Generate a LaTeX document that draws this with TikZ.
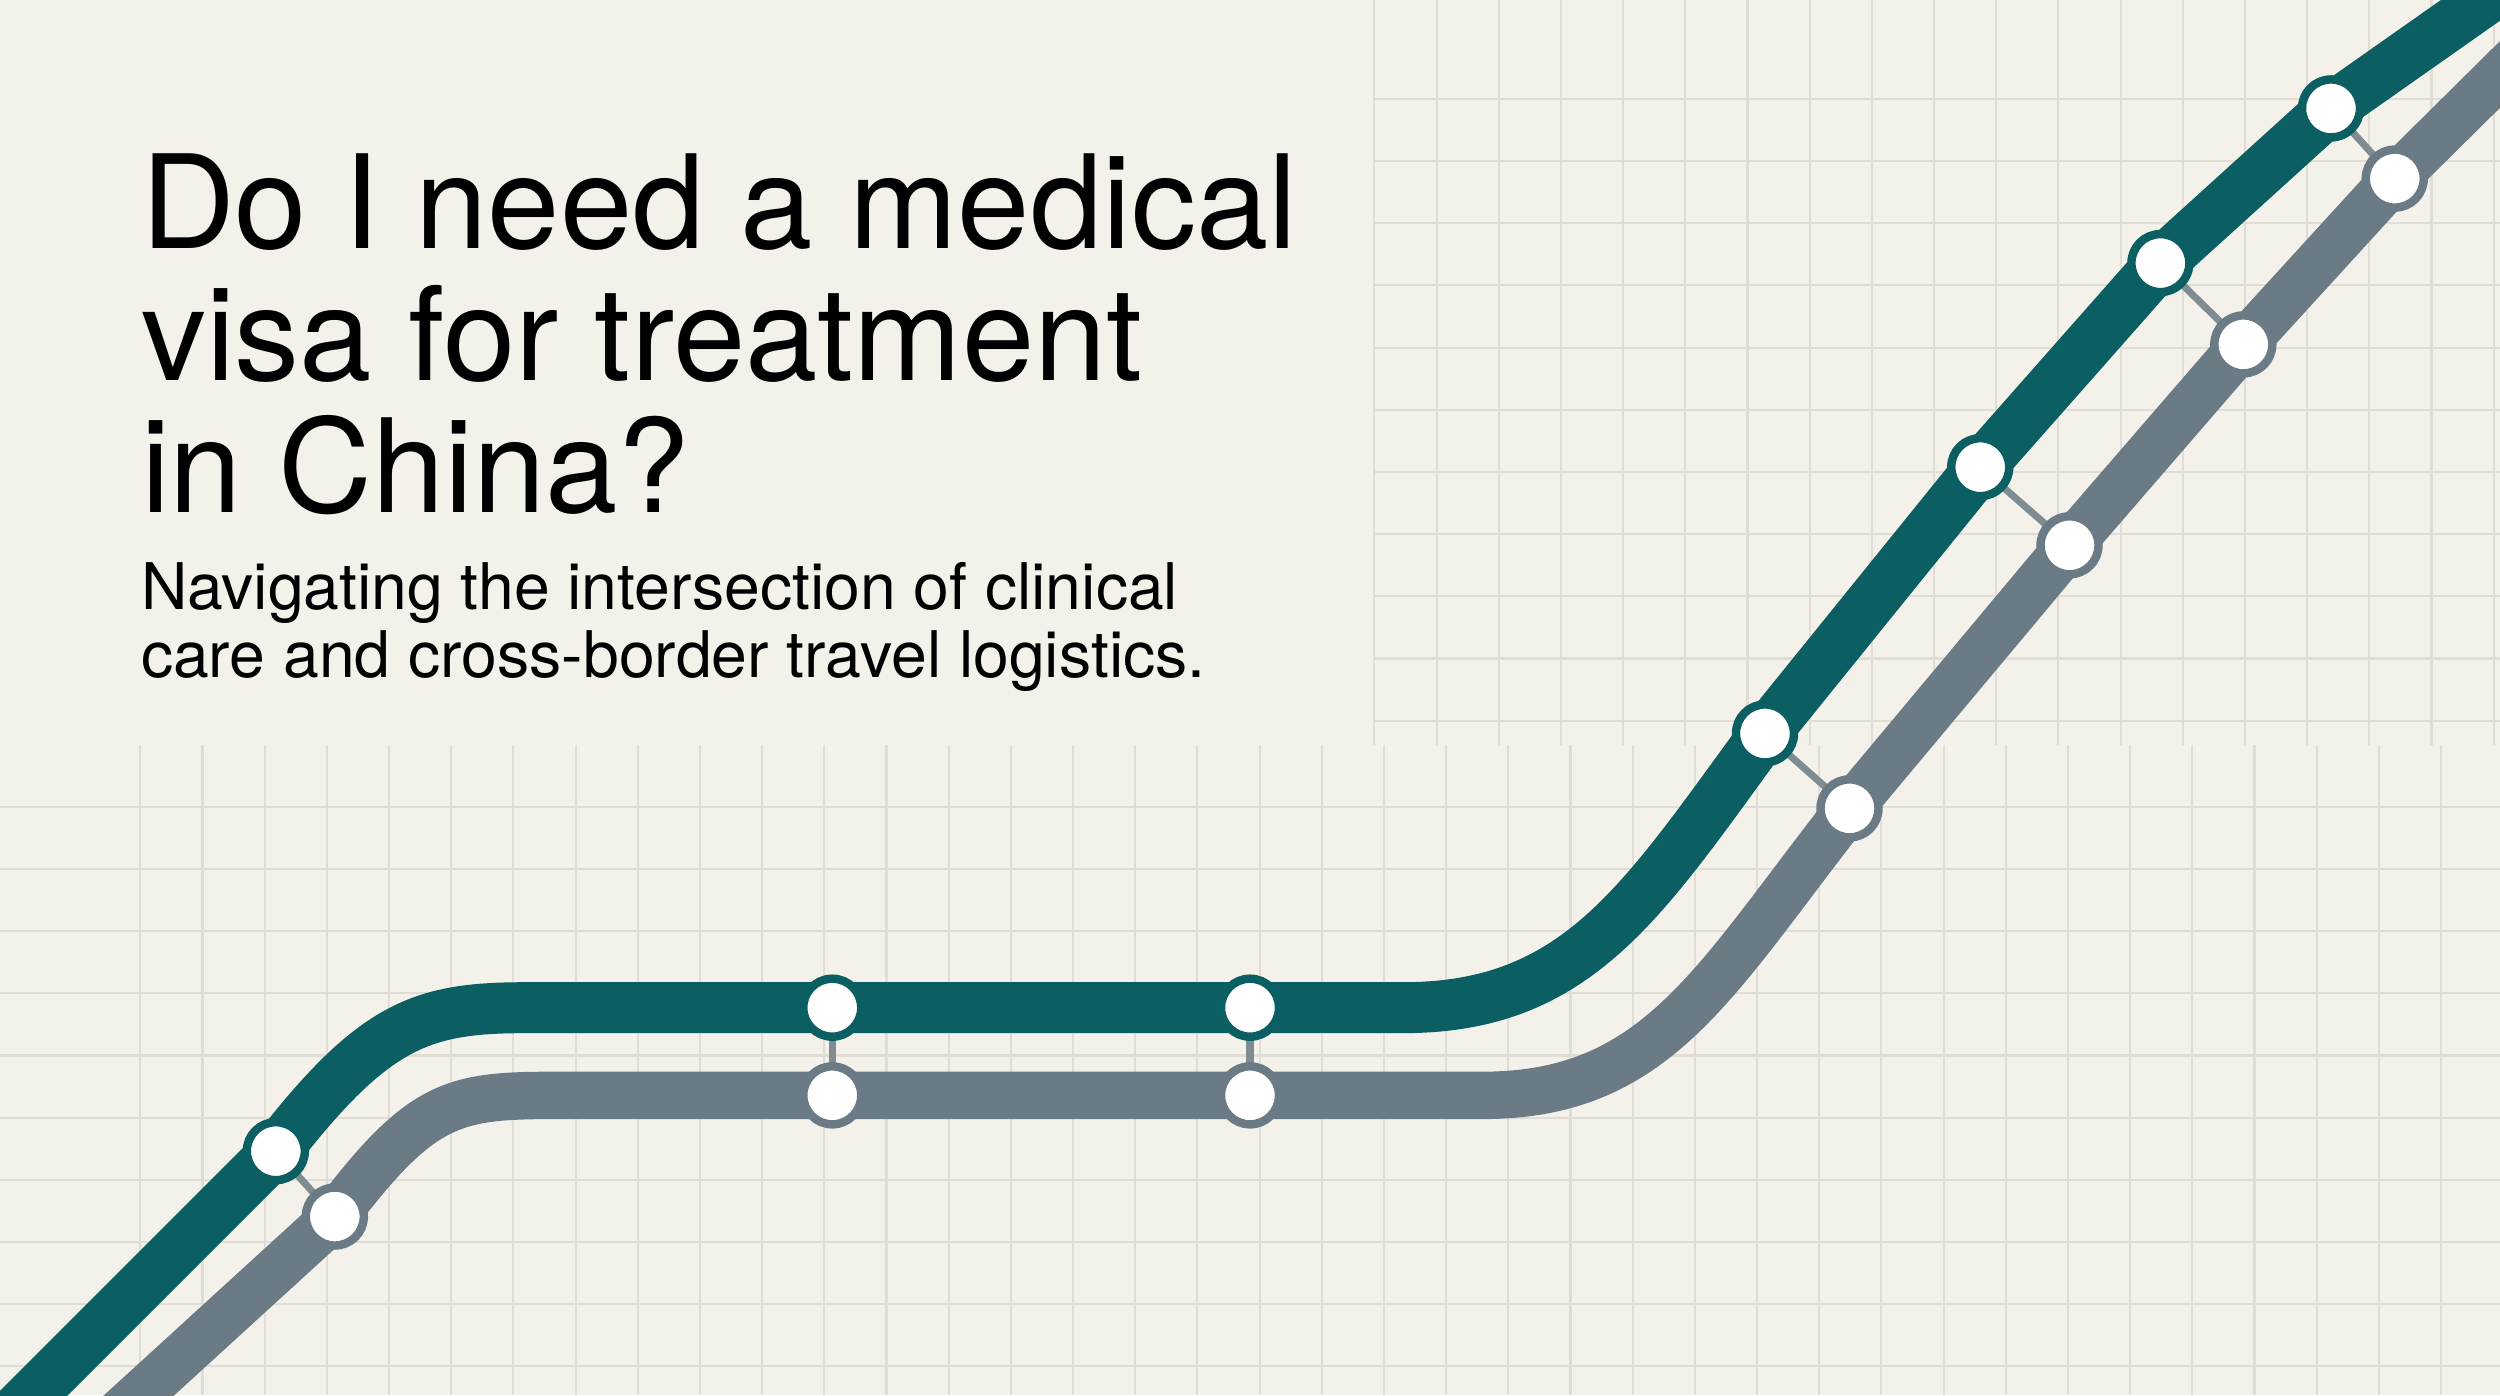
\documentclass[tikz,border=0pt]{standalone}
\usepackage{fontspec}
\setmainfont{TeX Gyre Heros}
\definecolor{bg}{HTML}{F3F1EA}
\definecolor{gridc}{HTML}{E0DDD6}
\definecolor{teal}{HTML}{0B5F63}
\definecolor{slate}{HTML}{6B7B86}
\definecolor{linkc}{HTML}{7F8C92}
\begin{document}
\begin{tikzpicture}[x=0.015944cm,y=-0.015944cm,
  gridline/.style={gridc,line width=0.6pt},
  tealtrack/.style={teal,line width=14.5pt,line join=round},
  slatetrack/.style={slate,line width=13.5pt,line join=round},
  tst/.style={circle,draw=teal,fill=white,line width=2.4pt,minimum size=16.5pt,inner sep=0pt},
  sst/.style={circle,draw=slate,fill=white,line width=2.4pt,minimum size=16.5pt,inner sep=0pt},
  link/.style={linkc,line width=2pt}]
\fill[bg] (0,0) rectangle (1568,875);
\useasboundingbox (0,0) rectangle (1568,875);
% grid lower
\foreach \x in {88,127,...,1568} \draw[gridline] (\x,467) -- (\x,875);
\foreach \y in {506,545,...,875} \draw[gridline] (0,\y) -- (1568,\y);
% grid upper right
\foreach \x in {862,901,...,1568} \draw[gridline] (\x,0) -- (\x,467);
\foreach \y in {62,101,...,460} \draw[gridline] (862,\y) -- (1568,\y);
% text
\node[anchor=north west,align=left,inner sep=0pt,font=\fontsize{37}{37.5}\selectfont] (title) at (88,96)
 {Do I need a medical\\visa for treatment\\in China?};
\node[anchor=north west,align=left,inner sep=0pt,font=\fontsize{18.3}{19.5}\selectfont] (sub) at (88,352)
 {Navigating the intersection of clinical\\care and cross-border travel logistics.};
% station positions
\coordinate (ts) at (0,895); \coordinate (te) at (1580,-15);
\coordinate (gs) at (60,900); \coordinate (ge) at (1600,15);
\coordinate (T1) at (173,722); \coordinate (T2) at (522,632); \coordinate (T3) at (784,632);
\coordinate (T4) at (1107,460); \coordinate (T5) at (1242,293); \coordinate (T6) at (1355,165); \coordinate (T7) at (1462,68);
\coordinate (G1) at (210,763); \coordinate (G2) at (522,687); \coordinate (G3) at (784,687);
\coordinate (G4) at (1160,507); \coordinate (G5) at (1298,342); \coordinate (G6) at (1407,216); \coordinate (G7) at (1502,112);
% tracks
\draw[slatetrack] (gs) -- (G1) .. controls (265,690) and (285,687) .. (350,687) -- (G2) -- (G3) -- (930,687)
  .. controls (1040,687) and (1075,615) .. (G4) -- (G5) -- (G6) -- (G7) -- (ge);
\draw[tealtrack] (ts) -- (T1) .. controls (235,642) and (265,632) .. (330,632) -- (T2) -- (T3) -- (880,632)
  .. controls (990,632) and (1030,565) .. (T4) -- (T5) -- (T6) -- (T7) -- (te);
% links
\foreach \i in {1,...,7} \draw[link] (T\i) -- (G\i);
% stations
\foreach \i in {1,...,7} {\node[tst] (t\i) at (T\i) {}; \node[sst] (g\i) at (G\i) {};}
\end{tikzpicture}
\end{document}
